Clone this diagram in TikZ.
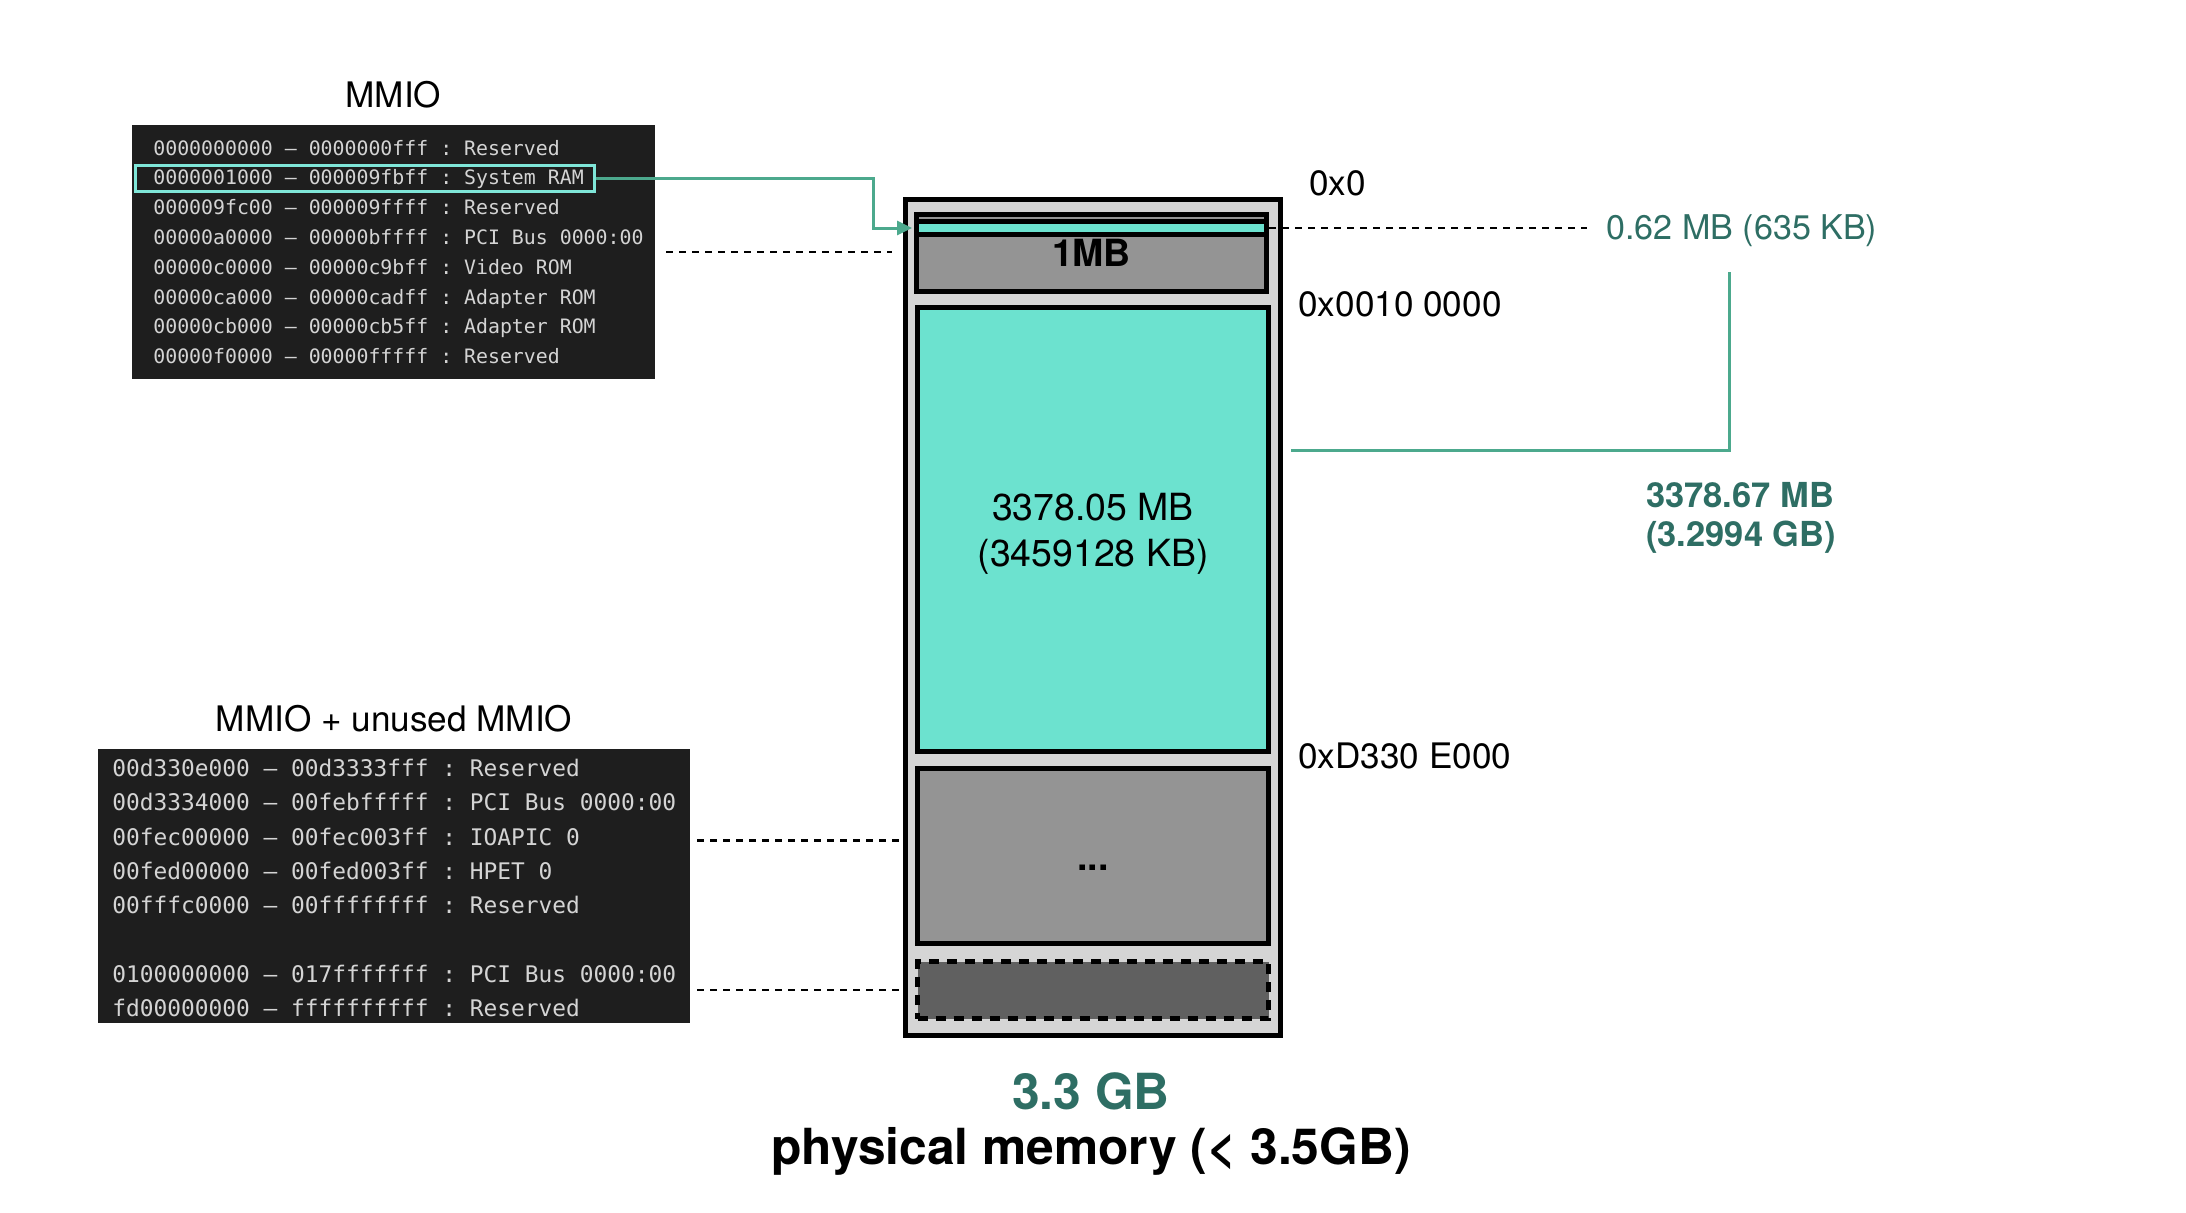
\documentclass[tikz,border=0pt]{standalone}
\usepackage{fontspec}
\setmainfont{TeX Gyre Heros}
\setmonofont{DejaVu Sans Mono}
\usetikzlibrary{positioning,arrows.meta}

\definecolor{mint}{HTML}{6CE2CF}
\definecolor{pine}{HTML}{2E6E64}
\definecolor{wire}{HTML}{4CA98D}
\definecolor{frame}{HTML}{D5D5D5}
\definecolor{midgray}{HTML}{949494}
\definecolor{slate}{HTML}{606060}
\definecolor{termbg}{HTML}{1E1E1E}
\definecolor{termfg}{HTML}{D4D4D4}
\definecolor{pick}{HTML}{7FE6D8}

\begin{document}
\begin{tikzpicture}[
    x=0.2mm, y=-0.2mm,
    region/.style={draw=black, line width=1mm, minimum width=70.2mm, inner sep=0pt},
    termbox/.style={fill=termbg, inner sep=0pt},
    codetop/.style={anchor=base west, inner sep=0pt, text=termfg,
      font=\ttfamily\fontsize{11.3}{13}\selectfont},
    codelow/.style={codetop, font=\ttfamily\fontsize{13}{15}\selectfont},
    heading/.style={inner sep=0pt, font=\fontsize{20}{24}\selectfont},
    addr/.style={anchor=west, inner sep=0pt, font=\fontsize{20}{24}\selectfont},
    dashline/.style={line width=0.5mm, dash pattern=on 1.4mm off 1.2mm},
    wireline/.style={draw=wire, line width=0.6mm},
  ]
    \useasboundingbox (0,0) rectangle (2186,1212);

    % physical memory column
    \node[draw=black, line width=1mm, fill=frame, minimum width=75.1mm,
      minimum height=167.2mm, inner sep=0pt] (mem) at (1092.75,617) {};
    \node[region, fill=midgray, minimum width=70mm, minimum height=15.3mm,
      font=\bfseries\fontsize{21.3}{26}\selectfont] (low) at (1091.5,253) {1MB};
    \node[region, fill=mint, minimum width=70mm, minimum height=2.6mm] (stripe) at (1091.5,228) {};
    \node[region, fill=mint, minimum height=88.8mm, align=center,
      font=\fontsize{21.3}{26.2}\selectfont] (ram) at (1093,529.5) {};
    \node[align=center, inner sep=0pt, font=\fontsize{21.3}{26.2}\selectfont]
      (ramsize) at (1093,534) {3378.05 MB\\(3459128 KB)};
    \node[region, fill=midgray, minimum height=35mm] (gap) at (1093,856) {};
    \node[inner sep=0pt, font=\bfseries\fontsize{21.3}{26}\selectfont] (dots) at (1093,868) {...};
    \node[region, fill=slate, dash pattern=on 2mm off 1.6mm, minimum height=11.4mm] (high) at (1093,990) {};

    % addresses
    \node[addr] (a0) at (1309,183) {0x0};
    \node[addr] (a1) at (1298,304) {0x0010 0000};
    \node[addr] (a2) at (1298,756) {0xD330 E000};

    % sizes
    \node[addr, font=\fontsize{19.4}{24}\selectfont, text=pine] (small) at (1606,231) {0.62 MB (635 KB)};
    \node[anchor=west, inner sep=0pt, align=left, text=pine,
      font=\bfseries\fontsize{19.6}{22.2}\selectfont] (ramtotal) at (1646,518) {3378.67 MB\\(3.2994 GB)};
    \node[text=pine, font=\bfseries\fontsize{28.3}{32}\selectfont] (total) at (1091,1091) {3.3 GB};
    \node[font=\bfseries\fontsize{28.3}{32}\selectfont] (caption) at (1091,1151) {physical memory (< 3.5GB)};

    % low MMIO listing
    \node[termbox, minimum width=104.6mm, minimum height=50.8mm] (mmio) at (393.5,252) {};
    \node[heading, above=3.3mm of mmio] (mmiotitle) {MMIO};
    \foreach \txt [count=\i] in {
        0000000000 – 0000000fff : Reserved,
        0000001000 – 000009fbff : System RAM,
        000009fc00 – 000009ffff : Reserved,
        00000a0000 – 00000bffff : PCI Bus 0000:00,
        00000c0000 – 00000c9bff : Video ROM,
        00000ca000 – 00000cadff : Adapter ROM,
        00000cb000 – 00000cb5ff : Adapter ROM,
        00000f0000 – 00000fffff : Reserved}
      \node[codetop] (top\i) at (153,{155+(\i-1)*29.8}) {\txt};
    \node[draw=pick, line width=0.6mm, minimum width=91.6mm, minimum height=5.2mm,
      inner sep=0pt] (sel) at (365,178) {};

    % high MMIO listing
    \node[termbox, minimum width=118.4mm, minimum height=54.8mm] (mmio2) at (394,886) {};
    \node[heading, above=3.3mm of mmio2] (mmio2title) {MMIO + unused MMIO};
    \foreach \y/\txt [count=\i] in {
        776.5/00d330e000 – 00d3333fff : Reserved,
        810.8/00d3334000 – 00febfffff : PCI Bus 0000:00,
        845.1/00fec00000 – 00fec003ff : IOAPIC 0,
        879.4/00fed00000 – 00fed003ff : HPET 0,
        913.7/00fffc0000 – 00ffffffff : Reserved,
        982.3/0100000000 – 017fffffff : PCI Bus 0000:00,
        1016.6/fd00000000 – ffffffffff : Reserved}
      \node[codelow] (bot\i) at (112,\y) {\txt};

    % connectors
    \coordinate (knee) at (873,178);
    \coordinate (corner) at (1729,450);
    \coordinate (brktop) at (1729,272);
    \draw[wireline, -{Triangle[length=3mm, width=2.8mm]}, shorten >=0.4mm]
      (sel.east) -- (knee) |- (stripe.west);
    \draw[dashline, shorten <=2.2mm, shorten >=2.2mm] (mmio.east) -- (mmio.east -| mem.west);
    \draw[dashline, shorten <=1.4mm] ([yshift=-0.8mm]mmio2.east |- bot3) -- ([yshift=-0.8mm]mem.west |- bot3);
    \draw[dashline, shorten <=1.4mm] (mmio2.east |- high) -- (mem.west |- high);
    \draw[dashline, shorten >=3.8mm] (stripe.east) -- (stripe.east -| small.west);
    \draw[wireline, shorten <=1.6mm] (mem.east |- corner) -- (corner) -- (brktop);
\end{tikzpicture}
\end{document}
